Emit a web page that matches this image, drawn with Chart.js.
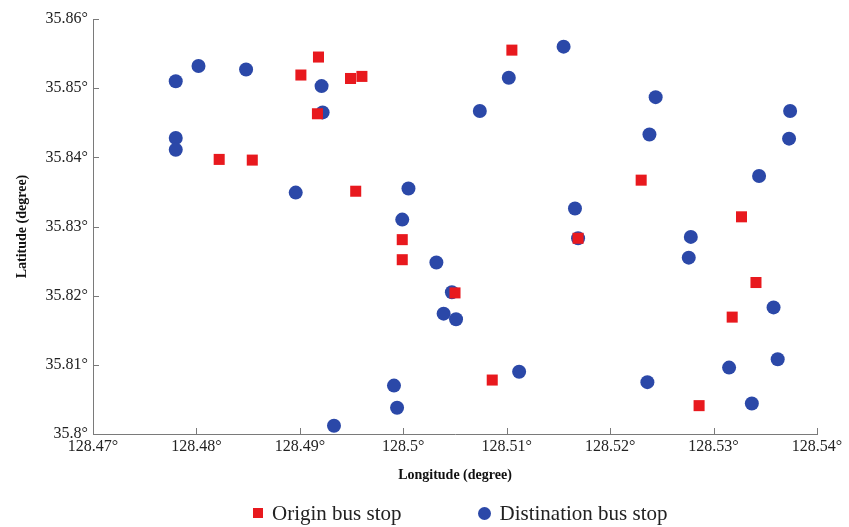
<!DOCTYPE html>
<html>
<head>
<meta charset="utf-8">
<script src="https://cdn.jsdelivr.net/npm/chart.js@4/dist/chart.umd.min.js"></script>
<style>
  html, body { margin: 0; padding: 0; background: #fff; }
  #wrap { position: relative; width: 849px; height: 527px; }
  #legend {
    position: absolute; left: 253px; top: 500px; height: 26px;
    display: flex; align-items: center; gap: 76px;
    font-family: 'Liberation Serif', 'DejaVu Serif', serif; font-size: 21px; color: #222;
  }
  #legend .item { display: flex; align-items: center; white-space: nowrap; }
  #legend .mark { display: inline-block; margin-right: 9px; }
</style>
</head>
<body>
<div id="wrap">
  <canvas id="chart" width="849" height="527"></canvas>
  <div id="legend"></div>
</div>
<script>
// Origin bus stops (red squares)
const originLon = [128.4918, 128.4901, 128.4949, 128.4960, 128.4917, 128.4822, 128.4854, 128.4954, 128.4999, 128.4999,
                   128.5105, 128.5230, 128.5327, 128.5169, 128.5050, 128.5086, 128.5286, 128.5341, 128.5318];
const originLat = [35.8545, 35.8519, 35.8514, 35.8517, 35.8463, 35.8397, 35.8396, 35.8351, 35.8281, 35.8252,
                   35.8555, 35.8367, 35.8314, 35.8283, 35.8204, 35.8078, 35.8041, 35.8219, 35.8169];

// Destination bus stops (blue circles)
const destLon = [128.4780, 128.4802, 128.4848, 128.4921, 128.4922, 128.4780, 128.4780, 128.4896, 128.5005, 128.4999,
                 128.4991, 128.4994, 128.4933, 128.5155, 128.5102, 128.5074, 128.5244, 128.5238, 128.5374, 128.5373,
                 128.5344, 128.5166, 128.5169, 128.5278, 128.5276, 128.5032, 128.5047, 128.5039, 128.5051, 128.5112,
                 128.5236, 128.5337, 128.5315, 128.5362, 128.5358];
const destLat = [35.8510, 35.8532, 35.8527, 35.8503, 35.8465, 35.8428, 35.8411, 35.8349, 35.8355, 35.8310,
                 35.8070, 35.8038, 35.8012, 35.8560, 35.8515, 35.8467, 35.8487, 35.8433, 35.8467, 35.8427,
                 35.8373, 35.8326, 35.8283, 35.8285, 35.8255, 35.8248, 35.8205, 35.8174, 35.8166, 35.8090,
                 35.8075, 35.8044, 35.8096, 35.8108, 35.8183];

// Axis ranges / ticks
const lonRange = [128.47, 128.54];
const latRange = [35.80, 35.86];
const tickStep = 0.01;

const RED = '#e8191e';
const BLUE = '#2b48a8';
const AXIS = '#7a7a7a';
const SERIF = "'Liberation Serif', 'DejaVu Serif', serif";

const toPoints = (xs, ys) => xs.map((x, i) => ({ x, y: ys[i] }));
const deg = v => Number(v.toFixed(2)) + '°';
const stepTicks = (range) => {
  const n = Math.round((range[1] - range[0]) / tickStep);
  const out = [];
  for (let i = 0; i <= n; i++) out.push({ value: Number((range[0] + i * tickStep).toFixed(2)) });
  return out;
};

// short tick marks pointing into the plot area
const inwardTicks = {
  id: 'inwardTicks',
  afterDatasetsDraw(chart) {
    const { ctx, scales: { x, y } } = chart;
    ctx.save();
    ctx.strokeStyle = AXIS;
    ctx.lineWidth = 1;
    ctx.beginPath();
    x.ticks.forEach((t, i) => {
      const px = Math.round(x.getPixelForTick(i)) + 0.5;
      ctx.moveTo(px, x.top);
      ctx.lineTo(px, x.top - 6);
    });
    y.ticks.forEach((t, i) => {
      const py = Math.round(y.getPixelForTick(i)) + 0.5;
      ctx.moveTo(y.right, py);
      ctx.lineTo(y.right + 6, py);
    });
    ctx.stroke();
    ctx.restore();
  }
};

const chart = new Chart(document.getElementById('chart'), {
  type: 'scatter',
  data: {
    datasets: [
      {
        label: 'Origin bus stop',
        data: toPoints(originLon, originLat),
        pointStyle: 'rect',
        pointRadius: 7.8,
        pointHoverRadius: 7.8,
        backgroundColor: RED,
        borderColor: RED,
        borderWidth: 0,
      },
      {
        label: 'Distination bus stop',
        data: toPoints(destLon, destLat),
        pointStyle: 'circle',
        pointRadius: 7,
        pointHoverRadius: 7,
        backgroundColor: BLUE,
        borderColor: BLUE,
        borderWidth: 0,
      },
    ],
  },
  options: {
    responsive: false,
    animation: false,
    events: [],
    layout: { padding: { left: 0, right: 32, top: 19, bottom: 39 } },
    plugins: {
      tooltip: { enabled: false },
      legend: { display: false },
    },
    scales: {
      x: {
        type: 'linear',
        min: lonRange[0],
        max: lonRange[1],
        afterBuildTicks(scale) { scale.ticks = stepTicks(lonRange); },
        afterFit(scale) { scale.height = 54; },
        grid: { display: true, drawOnChartArea: false, drawTicks: false },
        border: { display: true, color: AXIS, width: 1 },
        ticks: {
          padding: 3,
          maxRotation: 0,
          color: '#222',
          font: { family: SERIF, size: 16 },
          callback: v => deg(v),
        },
        title: {
          display: true,
          text: 'Longitude (degree)',
          color: '#111',
          font: { family: SERIF, size: 14, weight: 'bold' },
          padding: { top: 4, bottom: 4 },
        },
      },
      y: {
        type: 'linear',
        min: latRange[0],
        max: latRange[1],
        afterBuildTicks(scale) { scale.ticks = stepTicks(latRange); },
        afterFit(scale) { scale.width = 93; },
        grid: { display: true, drawOnChartArea: false, drawTicks: false },
        border: { display: true, color: AXIS, width: 1 },
        ticks: {
          padding: 5,
          color: '#222',
          font: { family: SERIF, size: 16 },
          callback: v => deg(v),
        },
        title: {
          display: true,
          text: 'Latitude (degree)',
          color: '#111',
          font: { family: SERIF, size: 14, weight: 'bold' },
          padding: { top: 14, bottom: 4 },
        },
      },
    },
  },
  plugins: [inwardTicks],
});

// HTML legend built from the chart's datasets
document.getElementById('legend').innerHTML = chart.data.datasets.map(ds => {
  const isRect = ds.pointStyle === 'rect';
  const size = isRect ? 10 : 13;
  const shape = `width:${size}px;height:${size}px;background:${ds.backgroundColor};border-radius:${isRect ? 0 : '50%'}`;
  return `<span class="item"><span class="mark" style="${shape}"></span>${ds.label}</span>`;
}).join('');
</script>
</body>
</html>
